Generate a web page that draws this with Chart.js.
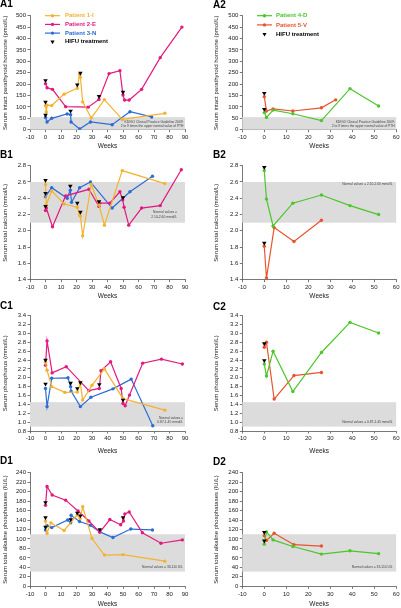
<!DOCTYPE html>
<html>
<head>
<meta charset="utf-8">
<script src="https://cdn.jsdelivr.net/npm/chart.js@4.4.0/dist/chart.umd.min.js"></script>
<style>
body { margin: 0; background: #fff; }
#wrap { position: relative; width: 401px; height: 608px; overflow: hidden; }
canvas { position: absolute; }
.lbl { position: absolute; font: bold 10px "Liberation Sans", Arial, sans-serif; line-height: 1; color: #000; }
</style>
</head>
<body>
<div id="wrap">
  <canvas id="a1" width="200" height="150" style="left:0;top:0"></canvas>
  <canvas id="a2" width="201" height="150" style="left:200px;top:0"></canvas>
  <canvas id="b1" width="200" height="150" style="left:0;top:150px"></canvas>
  <canvas id="b2" width="201" height="150" style="left:200px;top:150px"></canvas>
  <canvas id="c1" width="200" height="155" style="left:0;top:300px"></canvas>
  <canvas id="c2" width="201" height="155" style="left:200px;top:300px"></canvas>
  <canvas id="d1" width="200" height="156" style="left:0;top:452px"></canvas>
  <canvas id="d2" width="201" height="156" style="left:200px;top:452px"></canvas>
  <div class="lbl" style="left:0;top:-1px">A1</div>
  <div class="lbl" style="left:213px;top:0">A2</div>
  <div class="lbl" style="left:0;top:150px">B1</div>
  <div class="lbl" style="left:213px;top:150px">B2</div>
  <div class="lbl" style="left:0;top:301px">C1</div>
  <div class="lbl" style="left:213px;top:302px">C2</div>
  <div class="lbl" style="left:0;top:456px">D1</div>
  <div class="lbl" style="left:213px;top:457px">D2</div>
</div>
<script>
// noms des patients
const patientNames = ["Patient 1-I", "Patient 2-E", "Patient 3-N", "Patient 4-D", "Patient 5-V"];
const hifuName = "HIFU treatment";

// A : PTH (pmol/L)
const pthWeeks1 = [0, 0.5, 1, 4, 12, 20.5, 22, 22.5, 24, 29.5, 38, 49.5, 77];
const pth1 = [105, 78, 108, 106, 156, 182, 242, 230, 122, 51, 132, 45, 72];
const pthWeeks2 = [0, 1, 4.5, 13, 27.5, 34.5, 41, 48, 50, 51, 54, 62, 74, 88];
const pth2 = [202, 184, 177, 101, 99, 133, 246, 259, 152, 130, 130, 177, 316, 450];
const pthWeeks3 = [0, 1, 4, 14, 16.2, 16.5, 22, 29, 43, 54.5, 68.5];
const pth3 = [54, 34, 50, 69, 66, 34, 3, 34, 22, 79, 56];
const pthWeeks4 = [0, 1, 4, 13, 26, 39, 52];
const pth4 = [75, 54, 86, 70, 40, 180, 104];
const pthWeeks5 = [0, 1, 4, 13, 26, 32.5];
const pth5 = [145, 82, 91, 82, 96, 131];
const hifuPthWeeks1 = [0, 0, 0, 16.2, 20.5, 22.5, 34.5, 50];
const hifuPth1 = [216, 121, 64, 82, 197, 248, 146, 165];
const hifuPthWeeks2 = [0, 0];
const hifuPth2 = [160, 90];

// B : calcium (mmol/L)
const caWeeks1 = [0, 0.5, 4, 12, 20.5, 22, 22.5, 24, 29.5, 34.5, 38, 49.5, 77];
const ca1 = [2.57, 2.32, 2.49, 2.33, 2.29, 2.20, 2.18, 1.94, 2.57, 2.32, 2.07, 2.74, 2.58];
const caWeeks2 = [0, 0.5, 4.5, 13, 28, 34.5, 35, 41.5, 48, 49.8, 50.7, 53.7, 62, 74, 87.6];
const ca2 = [2.25, 2.28, 2.05, 2.43, 2.51, 2.30, 2.34, 2.34, 2.48, 2.38, 2.29, 2.07, 2.28, 2.31, 2.75];
const caWeeks3 = [0, 4, 14, 16, 16.8, 22, 29, 43, 54.5, 69];
const ca3 = [2.42, 2.53, 2.40, 2.50, 2.35, 2.53, 2.60, 2.28, 2.48, 2.67];
const caWeeks4 = [0, 1, 4, 13, 26, 39, 52];
const ca4 = [2.74, 2.39, 2.06, 2.34, 2.44, 2.31, 2.20];
const caWeeks5 = [0, 1, 4.5, 13.5, 26];
const ca5 = [1.81, 1.42, 2.04, 1.87, 2.13];
const hifuCaWeeks1 = [0, 0, 0, 16, 20.5, 22.5, 34.5, 50];
const hifuCa1 = [2.62, 2.46, 2.30, 2.55, 2.34, 2.23, 2.36, 2.41];
const hifuCaWeeks2 = [0, 0];
const hifuCa2 = [2.78, 1.85];

// C : phosphore (mmol/L)
const phWeeks1 = [0, 1, 4, 12.5, 20.5, 22.5, 24, 30, 38, 50, 77];
const ph1 = [2.35, 2.17, 1.80, 1.67, 1.68, 1.87, 1.50, 1.83, 2.20, 1.53, 1.27];
const phWeeks2 = [0, 1, 4.3, 13.4, 28, 34.7, 35.8, 42, 48.8, 50, 51.4, 54.2, 62.7, 74.8, 88.3];
const ph2 = [2.28, 2.83, 2.11, 2.25, 1.71, 1.76, 2.16, 2.36, 1.76, 1.42, 1.37, 1.61, 2.33, 2.42, 2.31];
const phWeeks3 = [0, 1, 4, 14.5, 16.2, 16.5, 22.5, 29.3, 43.5, 55.3, 69.2];
const ph3 = [1.76, 1.35, 1.99, 2.00, 1.80, 1.70, 1.35, 1.56, 1.75, 1.97, 0.92];
const phWeeks4 = [0, 1, 4, 13, 26, 39, 52];
const ph4 = [2.31, 2.04, 2.60, 1.69, 2.57, 3.25, 3.01];
const phWeeks5 = [0, 1, 4.5, 13.5, 26];
const ph5 = [2.69, 2.80, 1.52, 2.05, 2.12];
const hifuPhWeeks1 = [0, 0, 16.2, 20.5, 22.5, 34.7, 50];
const hifuPh1 = [2.40, 1.86, 1.88, 1.76, 1.89, 1.85, 1.50];
const hifuPhWeeks2 = [0, 0];
const hifuPh2 = [2.77, 2.39];

// D : phosphatases alcalines (IU/L)
const alpWeeks1 = [0, 1, 3.5, 12, 20.5, 22.3, 24, 30, 38, 50, 77];
const alp1 = [138, 112, 134, 118, 151, 143, 168, 101, 66, 67, 53];
const alpWeeks2 = [0, 1, 4.3, 13, 21, 28, 35, 41.5, 48.5, 50.3, 51.2, 54, 62.5, 74.5, 88.3];
const alp2 = [171, 211, 193, 182, 159, 138, 114, 141, 130, 138, 153, 157, 113, 91, 98];
const alpWeeks3 = [0, 1, 4, 14.3, 16.3, 16.5, 22, 29, 35, 43.5, 55, 69];
const alp3 = [119, 128, 124, 140, 134, 150, 137, 129, 115, 103, 121, 119];
const alpWeeks4 = [0, 1, 4, 13, 26, 39, 52];
const alp4 = [89, 115, 98, 84, 68, 75, 69];
const alpWeeks5 = [0, 1, 4.5, 13.5, 26];
const alp5 = [107, 97, 112, 88, 85];
const hifuAlpWeeks1 = [0, 0, 0, 16.3, 20.5, 22.5, 35, 50];
const hifuAlp1 = [177, 145, 125, 141, 155, 149, 120, 145];
const hifuAlpWeeks2 = [0, 0];
const hifuAlp2 = [114, 96];

// valeurs normales (bande grise)
const pthRange = [0, 55];
const caRange = [2.1, 2.6];
const phRange = [0.9, 1.45];
const alpRange = [31, 110];

// axes
const weekRangeLeft = [-10, 90];
const weekRangeRight = [-10, 60];
const pthAxis = [0, 500, 50];
const caAxis = [1.4, 2.8, 0.2];
const phAxis = [0.8, 3.4, 0.2];
const alpAxis = [0, 240, 20];

// styles
const patientColors = ["#f4b232", "#e3197f", "#2c6cd6", "#4bc62b", "#e8542e"];
const FONT = '"Liberation Sans", Arial, sans-serif';

function serie(i, weeks, vals) {
    return {
        label: patientNames[i],
        data: weeks.map((w, k) => ({x: w, y: vals[k]})),
        borderColor: patientColors[i],
        backgroundColor: patientColors[i],
        borderWidth: 1.2,
        pointRadius: 1.7,
        pointBorderWidth: 0,
        tension: 0
    };
}

function hifu(weeks, vals) {
    return {
        label: hifuName,
        data: weeks.map((w, k) => ({x: w, y: vals[k]})),
        showLine: false,
        pointStyle: "triangle",
        rotation: 180,
        pointRadius: 2.6,
        pointBorderWidth: 0,
        borderColor: "#000",
        backgroundColor: "#000",
        order: -1
    };
}

// bande grise + texte
const bandPlugin = {
    id: "band",
    beforeDatasetsDraw(chart, args, o) {
        if (!o || o.lo == null) return;
        const ctx = chart.ctx, a = chart.chartArea, y = chart.scales.y;
        const top = y.getPixelForValue(o.hi), bot = y.getPixelForValue(o.lo);
        ctx.save();
        ctx.fillStyle = "#dcdcdc";
        ctx.fillRect(a.left, top, a.right - a.left, bot - top);
        ctx.fillStyle = "#444";
        ctx.font = "3.3px " + FONT;
        ctx.textAlign = "right";
        ctx.textBaseline = "middle";
        const n = o.lines.length;
        o.lines.forEach((t, k) => {
            const yy = o.atTop ? top + 2.6 + k * 4.2 : bot - o.lift - (n - 1 - k) * 4.2;
            ctx.fillText(t, a.right - o.inset, yy);
        });
        ctx.restore();
    }
};

// légende dessinée dans la zone du graphique
const keyPlugin = {
    id: "key",
    afterDatasetsDraw(chart, args, o) {
        if (!o || o.x == null) return;
        const ctx = chart.ctx;
        ctx.save();
        ctx.font = "bold 6px " + FONT;
        ctx.textBaseline = "middle";
        chart.data.datasets.forEach((ds, k) => {
            const x = o.x, y = o.y + k * o.gap;
            if (ds.label === hifuName) {
                ctx.fillStyle = "#000";
                Chart.helpers.drawPoint(ctx, {pointStyle: "triangle", rotation: 180, radius: 2.4, borderWidth: 0}, x + 7.5, y);
                ctx.fillText(ds.label, x + o.tx, y);
            } else {
                ctx.strokeStyle = ds.borderColor;
                ctx.lineWidth = 1.2;
                ctx.beginPath();
                ctx.moveTo(x, y);
                ctx.lineTo(x + 15, y);
                ctx.stroke();
                ctx.fillStyle = ds.borderColor;
                ctx.beginPath();
                ctx.arc(x + 7.5, y, 1.7, 0, Math.PI * 2);
                ctx.fill();
                ctx.fillText(ds.label, x + o.tx, y);
            }
        });
        ctx.restore();
    }
};

const cols = {
    L: {yW: 30, padR: 15, titlePad: 1.4, range: weekRangeLeft},
    R: {yW: 42.3, padR: 4.3, titlePad: 12.4, range: weekRangeRight}
};
const rows = {
    A: {padT: 15.7, xH: 20.3},
    B: {padT: 15.7, xH: 20.3},
    C: {padT: 15.7, xH: 24},
    D: {padT: 20.7, xH: 21.7}
};

function axisStyle() {
    return {
        grid: {drawOnChartArea: false, drawTicks: true, tickLength: 2.5, color: "#555", lineWidth: 0.8},
        border: {display: true, color: "#555", width: 0.8}
    };
}

function makeChart(id, col, row, datasets, yAxis, yTitle, band, key) {
    const c = cols[col], r = rows[row];
    const dec = yAxis[2] < 1 ? 1 : 0;
    return new Chart(document.getElementById(id).getContext("2d"), {
        type: "line",
        data: {datasets: datasets},
        options: {
            responsive: false,
            animation: false,
            layout: {padding: {top: r.padT, right: c.padR, left: 0, bottom: 0}},
            plugins: {
                legend: {display: false},
                tooltip: {enabled: false},
                band: band,
                key: key || {}
            },
            scales: {
                x: {
                    type: "linear",
                    z: 1,
                    min: c.range[0],
                    max: c.range[1],
                    ticks: {stepSize: 10, padding: 1.5, color: "#222", font: {family: FONT, size: 6}, maxRotation: 0, autoSkip: false},
                    title: {display: true, text: "Weeks", color: "#222", font: {family: FONT, size: 6.5}, padding: {top: 0, bottom: 0}},
                    afterFit: s => { s.height = r.xH; },
                    ...axisStyle()
                },
                y: {
                    z: 1,
                    min: yAxis[0],
                    max: yAxis[1],
                    ticks: {stepSize: yAxis[2], padding: 1.5, color: "#222", font: {family: FONT, size: 6}, autoSkip: false,
                            callback: v => Number(v).toFixed(dec)},
                    title: {display: true, text: yTitle, color: "#222", font: {family: FONT, size: 6}, padding: {top: c.titlePad, bottom: 0}},
                    afterFit: s => { s.width = c.yW; },
                    ...axisStyle()
                }
            }
        },
        plugins: [bandPlugin, keyPlugin]
    });
}

const pthTitle = "Serum intact parathyroid hormone (pmol/L)";
const caTitle = "Serum total calcium (mmol/L)";
const phTitle = "Serum phosphorus (mmol/L)";
const alpTitle = "Serum total alkaline phosphatases (IU/L)";
const kdigo = ["KDIGO Clinical Practice Guideline 2009:", "2 to 9 times the upper normal value of PTH"];

makeChart("a1", "L", "A",
    [serie(0, pthWeeks1, pth1), serie(1, pthWeeks2, pth2), serie(2, pthWeeks3, pth3), hifu(hifuPthWeeks1, hifuPth1)],
    pthAxis, pthTitle,
    {lo: pthRange[0], hi: pthRange[1], lines: kdigo, inset: 1.5, lift: 3.2},
    {x: 45, y: 15.7, gap: 8.7, tx: 20});

makeChart("a2", "R", "A",
    [serie(3, pthWeeks4, pth4), serie(4, pthWeeks5, pth5), hifu(hifuPthWeeks2, hifuPth2)],
    pthAxis, pthTitle,
    {lo: pthRange[0], hi: pthRange[1], lines: kdigo, inset: 1.5, lift: 3.6},
    {x: 57, y: 15.7, gap: 9.2, tx: 19});

makeChart("b1", "L", "B",
    [serie(0, caWeeks1, ca1), serie(1, caWeeks2, ca2), serie(2, caWeeks3, ca3), hifu(hifuCaWeeks1, hifuCa1)],
    caAxis, caTitle,
    {lo: caRange[0], hi: caRange[1], lines: ["Normal values =", "2.10-2.60 mmol/L"], inset: 8, lift: 6});

makeChart("b2", "R", "B",
    [serie(3, caWeeks4, ca4), serie(4, caWeeks5, ca5), hifu(hifuCaWeeks2, hifuCa2)],
    caAxis, caTitle,
    {lo: caRange[0], hi: caRange[1], lines: ["Normal values = 2.10-2.60 mmol/L"], inset: 3.5, atTop: true});

makeChart("c1", "L", "C",
    [serie(0, phWeeks1, ph1), serie(1, phWeeks2, ph2), serie(2, phWeeks3, ph3), hifu(hifuPhWeeks1, hifuPh1)],
    phAxis, phTitle,
    {lo: phRange[0], hi: phRange[1], lines: ["Normal values =", "0.87-1.45 mmol/L"], inset: 2, lift: 4.3});

makeChart("c2", "R", "C",
    [serie(3, phWeeks4, ph4), serie(4, phWeeks5, ph5), hifu(hifuPhWeeks2, hifuPh2)],
    phAxis, phTitle,
    {lo: phRange[0], hi: phRange[1], lines: ["Normal values = 0.87-1.45 mmol/L"], inset: 3.5, lift: 4.3});

makeChart("d1", "L", "D",
    [serie(0, alpWeeks1, alp1), serie(1, alpWeeks2, alp2), serie(2, alpWeeks3, alp3), hifu(hifuAlpWeeks1, hifuAlp1)],
    alpAxis, alpTitle,
    {lo: alpRange[0], hi: alpRange[1], lines: ["Normal values = 33-110 U/L"], inset: 2, lift: 4.7});

makeChart("d2", "R", "D",
    [serie(3, alpWeeks4, alp4), serie(4, alpWeeks5, alp5), hifu(hifuAlpWeeks2, hifuAlp2)],
    alpAxis, alpTitle,
    {lo: alpRange[0], hi: alpRange[1], lines: ["Normal values = 33-110 U/L"], inset: 3.5, lift: 4.3});
</script>
</body>
</html>
